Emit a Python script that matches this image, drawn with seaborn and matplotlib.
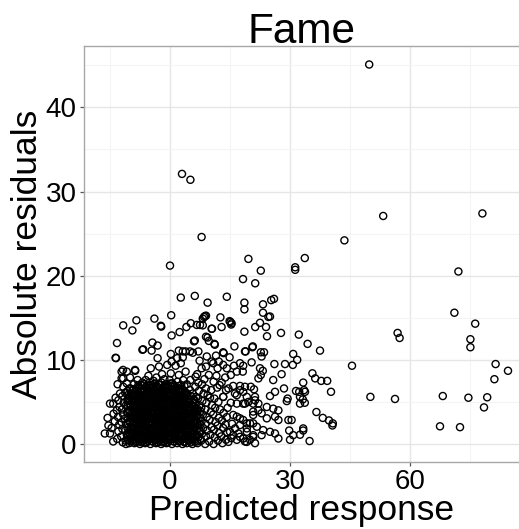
import matplotlib
matplotlib.use("Agg")
import matplotlib.pyplot as plt
import seaborn as sns
import pandas as pd
from matplotlib.ticker import MultipleLocator

# Sparse, large-residual observations
outlier_points = [
    (49.8, 45.1), (3.0, 32.1), (5.1, 31.4), (7.9, 24.6), (53.3, 27.1), (78.1, 27.4),
    (43.6, 24.2), (72.1, 20.5), (71.1, 15.6), (76.3, 14.3), (75.1, 12.45), (75.1, 11.5),
    (56.9, 13.2), (57.4, 12.6), (81.4, 9.5), (84.5, 8.7), (81.1, 7.7), (45.5, 9.3),
    (0.0, 21.2), (50.1, 5.6), (56.25, 5.35), (68.2, 5.7), (74.6, 5.5), (79.3, 5.55),
    (78.5, 4.35), (67.5, 2.1), (72.5, 2.0),
]

# Upper band of the main cloud (small predictions, residuals 8-18)
upper_points = [
    (2.7, 17.4), (6.2, 17.6), (0.3, 15.3), (-3.9, 14.9), (-8.4, 14.7), (-11.7, 14.1),
    (-9.4, 13.5), (-2.2, 13.95), (-2.3, 14.05), (0.4, 12.9), (2.4, 13.3), (4.1, 13.9),
    (5.2, 14.35), (-13.25, 12.0), (-6.9, 11.2), (-6.7, 11.25), (-4.4, 12.05), (-3.1, 11.7),
    (-4.6, 11.1), (6.0, 12.2), (-13.5, 10.2), (-13.6, 10.25), (-3.1, 10.2), (0.2, 10.7),
    (2.2, 11.1), (3.2, 11.0), (3.9, 11.0), (5.0, 11.0), (0.4, 9.8), (1.8, 10.2), (3.2, 10.3),
    (-11.75, 8.8), (-8.75, 8.8), (-4.8, 9.0), (-2.75, 9.2), (-0.7, 9.4), (1.4, 9.3),
    (2.7, 9.6), (-10.8, 8.6), (-12.1, 8.6), (-10.0, 7.9), (-11.7, 7.8), (-8.7, 8.7),
    (2.2, 8.2), (3.9, 8.6), (0.2, 8.4), (-2.0, 8.3), (-5.4, 8.1),
]

# Moderate predictions (roughly 5 to 45)
middle_points = [
    (6.7, 14.15), (7.5, 14.15), (8.5, 15.1), (9.0, 15.25), (10.4, 13.7), (12.6, 15.05),
    (12.9, 13.9), (15.1, 14.5), (15.4, 14.35), (18.6, 13.35), (21.3, 13.9), (9.4, 12.65),
    (11.1, 11.9), (9.0, 12.75), (9.4, 16.8), (18.6, 16.8), (18.6, 16.0), (16.1, 11.6),
    (18.9, 11.0), (20.7, 11.6), (13.3, 10.9), (5.7, 10.85), (7.1, 11.0), (9.2, 10.4),
    (10.4, 9.8), (9.0, 9.2), (10.8, 9.6), (11.9, 9.0), (13.3, 9.4), (14.2, 9.0),
    (19.6, 22.0), (22.7, 20.6), (31.3, 21.0), (31.3, 20.7), (33.7, 22.1), (18.25, 19.6),
    (21.3, 19.1), (14.2, 17.5), (23.25, 16.6), (25.3, 17.1), (26.0, 17.25), (23.25, 15.6),
    (24.6, 15.1), (25.0, 15.15), (8.75, 15.2), (8.2, 14.9), (8.2, 14.1), (14.9, 14.6),
    (15.3, 14.2), (10.5, 13.7), (22.5, 14.4), (24.0, 13.9), (27.75, 13.2), (24.25, 12.8),
    (32.2, 13.0), (6.2, 12.3), (9.7, 12.25), (11.2, 11.8), (20.6, 11.5), (18.75, 11.0),
    (13.4, 10.8), (22.7, 10.9), (23.5, 10.9), (34.4, 11.9), (30.8, 10.7), (37.5, 11.1),
    (35.6, 8.4), (36.3, 7.8), (37.8, 7.5), (39.3, 7.5), (33.3, 7.3), (33.5, 6.4),
    (32.5, 5.6), (33.7, 4.9), (40.25, 6.2), (36.6, 3.8), (38.2, 3.1), (39.75, 2.8),
    (40.6, 2.2), (40.7, 2.45), (33.3, 1.85), (33.3, 1.6), (32.5, 1.1), (34.9, 0.35),
    (22.9, 10.4), (17.5, 9.6), (18.3, 9.3), (20.4, 9.7), (16.7, 8.6), (18.2, 8.6),
    (22.5, 9.0), (23.2, 8.7), (22.7, 8.2), (22.1, 7.8), (26.1, 9.5), (28.75, 9.5),
    (31.8, 10.0), (30.7, 9.4), (27.9, 8.3), (25.8, 7.6), (31.5, 6.3), (32.3, 6.2),
    (33.75, 6.2), (33.2, 5.3), (32.5, 4.8), (29.4, 5.4), (29.2, 5.1), (26.25, 6.2),
    (25.0, 5.7), (28.5, 6.6), (15.8, 6.9), (17.5, 6.9), (18.75, 6.8), (20.2, 6.8),
    (21.0, 6.5), (18.3, 6.2), (16.7, 5.8), (21.25, 5.6), (16.7, 4.8), (18.3, 4.8),
    (19.6, 5.0), (20.8, 4.8), (22.1, 4.8), (24.2, 4.4), (25.8, 4.2), (27.1, 4.0),
    (24.2, 3.05), (26.25, 3.25), (27.1, 2.85), (29.6, 2.85), (30.4, 2.85), (23.3, 1.65),
    (25.0, 1.45), (26.25, 1.25), (27.1, 0.65), (29.8, 1.6), (30.8, 1.05), (30.0, 0.5),
    (22.9, 1.05), (20.8, 1.05), (20.0, 0.5), (18.3, 0.65), (21.7, 2.05), (20.0, 2.45),
    (19.2, 1.85), (22.1, 4.0), (22.9, 3.65), (20.8, 3.45), (16.7, 3.25), (18.3, 2.85),
    (17.5, 2.25), (16.25, 1.85), (15.8, 1.05), (17.5, 0.85), (19.2, 0.25), (21.25, 0.1),
    (14.6, 0.25), (13.3, 5.6), (16.25, 6.0), (17.5, 6.4), (19.2, 5.6), (21.25, 5.2),
    (18.75, 4.8), (20.8, 3.85), (15.8, 3.45), (17.5, 3.05), (19.2, 2.45), (20.8, 2.45),
    (15.0, 1.45), (17.1, 1.25), (19.2, 1.45), (20.8, 0.85), (16.7, 0.5), (18.75, 0.3),
    (6.8, 8.3), (7.9, 9.0), (8.6, 7.7), (9.7, 8.2), (10.9, 7.4), (11.6, 8.1), (12.4, 7.0),
    (13.8, 7.9), (14.6, 6.6), (7.4, 9.9), (12.2, 9.8), (11.5, 10.5), (15.2, 8.2),
    (16.0, 9.3), (14.9, 10.3),
]

# Dense core of the cloud (predictions near zero, small residuals)
core_points = [
    (-16.3, 1.25), (-15.0, 1.25), (-15.4, 2.2), (-15.0, 4.8), (-15.6, 3.1),
    (-14.2, 0.3), (-14.6, 1.9), (-13.8, 2.7), (-14.1, 3.6), (-13.3, 4.0), (-14.2, 4.8), (-13.6, 5.5),
    (-12.9, 1.5), (-13.2, 0.6), (-12.7, 2.3), (-13.0, 3.2), (-12.6, 4.4), (-12.5, 6.0), (-12.9, 5.2), (-13.1, 7.1),
    (-11.8, 0.2), (-12.2, 0.9), (-11.9, 1.8), (-12.1, 2.6), (-11.7, 3.5), (-12.0, 4.1), (-11.6, 4.9), (-11.7, 6.8), (-12.1, 7.8), (-11.9, 5.7),
    (-11.1, 0.4), (-10.8, 1.1), (-11.2, 1.6), (-10.9, 2.4), (-11.3, 3.0), (-10.7, 3.8), (-11.0, 4.6), (-10.6, 5.3), (-11.2, 6.1), (-10.8, 7.2), (-11.0, 0.0),
    (-10.2, 0.1), (-9.9, 0.7), (-10.3, 1.3), (-9.8, 2.0), (-10.1, 2.7), (-9.7, 3.3), (-10.2, 4.0), (-9.9, 4.7), (-10.3, 5.4), (-9.8, 6.0), (-10.1, 6.6),
    (-9.4, 0.4), (-9.6, 1.0), (-9.3, 1.7), (-9.5, 2.3), (-9.2, 3.0), (-9.6, 3.6), (-9.3, 4.3), (-9.5, 5.0), (-9.2, 5.7), (-9.4, 6.4), (-9.0, 7.1),
    (-8.9, 0.1), (-8.7, 0.8), (-9.0, 1.4), (-8.8, 2.1), (-8.6, 2.7), (-9.0, 3.4), (-8.7, 4.0), (-8.9, 4.6), (-8.6, 5.3), (-8.8, 6.0),
    (-8.2, 0.3), (-8.0, 0.9), (-8.3, 1.5), (-7.9, 2.2), (-8.1, 2.9), (-8.3, 3.5), (-7.9, 4.2), (-8.2, 4.9), (-8.0, 5.6), (-8.3, 6.3), (-7.9, 7.0), (-8.1, 7.6),
    (-7.5, 0.0), (-7.6, 0.6), (-7.3, 1.2), (-7.5, 1.9), (-7.2, 2.5), (-7.6, 3.1), (-7.4, 3.8), (-7.7, 4.5), (-7.3, 5.2), (-7.5, 5.9), (-7.2, 6.6),
    (-6.9, 0.3), (-6.7, 1.0), (-7.0, 1.6), (-6.8, 2.2), (-6.6, 2.9), (-7.0, 3.5), (-6.7, 4.1), (-6.9, 4.8), (-6.6, 5.5), (-6.8, 6.1), (-6.9, 7.3),
    (-6.2, 0.1), (-6.0, 0.8), (-6.3, 1.4), (-5.9, 2.0), (-6.1, 2.7), (-6.3, 3.3), (-5.9, 4.0), (-6.2, 4.6), (-6.0, 5.3), (-6.3, 5.9), (-5.9, 6.6), (-6.1, 7.6),
    (-5.5, 0.4), (-5.6, 1.1), (-5.3, 1.7), (-5.5, 2.4), (-5.2, 3.0), (-5.6, 3.7), (-5.4, 4.3), (-5.7, 5.0), (-5.3, 5.6), (-5.5, 6.3), (-5.2, 7.0),
    (-4.9, 0.0), (-4.7, 0.7), (-5.0, 1.3), (-4.8, 1.9), (-4.6, 2.6), (-5.0, 3.2), (-4.7, 3.9), (-4.9, 4.5), (-4.6, 5.2), (-4.8, 5.8), (-4.9, 6.7),
    (-4.2, 0.3), (-4.0, 0.9), (-4.3, 1.6), (-3.9, 2.2), (-4.1, 2.9), (-4.3, 3.5), (-3.9, 4.2), (-4.2, 4.8), (-4.0, 5.5), (-4.3, 6.1), (-3.9, 6.8), (-4.1, 7.5),
    (-3.5, 0.1), (-3.6, 0.8), (-3.3, 1.4), (-3.5, 2.0), (-3.2, 2.7), (-3.6, 3.3), (-3.4, 4.0), (-3.7, 4.6), (-3.3, 5.3), (-3.5, 5.9), (-3.2, 6.6), (-3.4, 7.9),
    (-2.9, 0.4), (-2.7, 1.1), (-3.0, 1.7), (-2.8, 2.4), (-2.6, 3.0), (-3.0, 3.7), (-2.7, 4.3), (-2.9, 5.0), (-2.6, 5.6), (-2.8, 6.3), (-2.9, 7.1),
    (-2.2, 0.0), (-2.0, 0.6), (-2.3, 1.3), (-1.9, 1.9), (-2.1, 2.6), (-2.3, 3.2), (-1.9, 3.9), (-2.2, 4.5), (-2.0, 5.2), (-2.3, 5.8), (-1.9, 6.5), (-2.1, 7.3),
    (-1.5, 0.3), (-1.6, 0.9), (-1.3, 1.6), (-1.5, 2.2), (-1.2, 2.9), (-1.6, 3.5), (-1.4, 4.2), (-1.7, 4.8), (-1.3, 5.5), (-1.5, 6.1), (-1.2, 6.8), (-1.4, 7.7),
    (-0.9, 0.1), (-0.7, 0.8), (-1.0, 1.4), (-0.8, 2.0), (-0.6, 2.7), (-1.0, 3.3), (-0.7, 4.0), (-0.9, 4.6), (-0.6, 5.3), (-0.8, 5.9), (-0.9, 6.6),
    (-0.2, 0.4), (0.0, 1.0), (-0.3, 1.7), (0.1, 2.3), (-0.1, 3.0), (-0.3, 3.6), (0.1, 4.3), (-0.2, 4.9), (0.0, 5.6), (-0.3, 6.2), (0.1, 6.9), (-0.1, 7.6),
    (0.5, 0.0), (0.4, 0.7), (0.7, 1.3), (0.5, 2.0), (0.8, 2.6), (0.4, 3.2), (0.6, 3.9), (0.3, 4.5), (0.7, 5.2), (0.5, 5.8), (0.8, 6.5), (0.6, 7.2),
    (1.1, 0.3), (1.3, 0.9), (1.0, 1.6), (1.2, 2.2), (1.4, 2.9), (1.0, 3.5), (1.3, 4.2), (1.1, 4.8), (1.4, 5.5), (1.2, 6.1), (1.1, 6.8),
    (1.8, 0.1), (2.0, 0.7), (1.7, 1.4), (2.1, 2.0), (1.9, 2.7), (1.7, 3.3), (2.1, 4.0), (1.8, 4.6), (2.0, 5.3), (1.7, 5.9), (2.1, 6.6), (1.9, 7.4),
    (2.5, 0.4), (2.4, 1.1), (2.7, 1.7), (2.5, 2.4), (2.8, 3.0), (2.4, 3.7), (2.6, 4.3), (2.3, 5.0), (2.7, 5.6), (2.5, 6.3), (2.8, 7.0),
    (3.1, 0.0), (3.3, 0.6), (3.0, 1.3), (3.2, 1.9), (3.4, 2.6), (3.0, 3.2), (3.3, 3.9), (3.1, 4.5), (3.4, 5.2), (3.2, 5.8), (3.1, 6.5), (3.3, 7.6),
    (3.6, 0.3), (3.8, 1.0), (3.5, 1.6), (3.7, 2.3), (3.9, 2.9), (3.5, 3.6), (3.8, 4.2), (3.6, 4.9), (3.9, 5.5), (3.7, 6.2), (3.6, 6.9),
    (4.2, 0.1), (4.4, 0.8), (4.1, 1.4), (4.3, 2.1), (4.5, 2.7), (4.1, 3.4), (4.4, 4.0), (4.2, 4.7), (4.5, 5.3), (4.3, 6.0), (4.2, 7.1),
    (4.9, 0.4), (5.1, 1.1), (4.8, 1.7), (5.0, 2.4), (5.2, 3.0), (4.8, 3.7), (5.1, 4.3), (4.9, 5.0), (5.2, 5.7), (5.0, 6.4), (5.1, 7.6),
    (5.6, 0.0), (5.8, 0.7), (5.5, 1.3), (5.7, 2.0), (5.9, 2.6), (5.5, 3.3), (5.8, 3.9), (5.6, 4.6), (5.9, 5.2), (5.7, 6.0),
    (6.2, 0.3), (6.4, 1.0), (6.1, 1.6), (6.3, 2.3), (6.5, 2.9), (6.1, 3.6), (6.4, 4.2), (6.2, 4.9), (6.5, 5.6), (6.3, 6.8), (6.4, 8.0),
    (6.9, 0.1), (7.1, 0.8), (7.3, 1.5), (7.0, 2.2), (7.2, 3.1), (6.9, 3.9), (7.3, 4.6), (7.0, 5.4), (7.2, 6.3), (7.1, 7.3),
    (7.8, 0.4), (8.0, 1.2), (8.3, 1.9), (7.9, 2.7), (8.2, 3.5), (7.8, 4.3), (8.1, 5.1), (8.4, 6.0), (8.0, 7.1),
    (8.8, 0.0), (9.0, 0.9), (9.3, 1.6), (8.9, 2.4), (9.2, 3.2), (8.8, 4.1), (9.1, 4.9), (9.4, 5.8), (9.0, 6.6),
    (9.8, 0.3), (10.1, 1.1), (10.4, 2.0), (9.9, 2.9), (10.2, 3.8), (10.5, 4.6), (10.0, 5.5), (10.3, 6.4),
    (10.9, 0.0), (11.2, 0.8), (11.0, 1.7), (11.4, 2.6), (10.8, 3.5), (11.3, 4.3), (11.1, 5.4),
    (12.0, 0.4), (12.3, 1.3), (11.9, 2.2), (12.2, 3.1), (12.5, 4.1), (12.1, 5.0), (11.8, 6.7),
    (13.1, 0.1), (12.8, 0.9), (13.3, 1.9), (13.0, 2.8), (13.4, 3.7), (13.3, 5.6), (12.9, 7.3),
    (14.0, 0.5), (14.3, 1.4), (13.9, 2.3), (14.2, 3.2), (14.4, 4.3), (14.0, 6.4),
    (15.3, 0.7), (15.5, 2.4), (15.2, 4.9),
]

# Further observations packed between the core ones, one column per predicted value
core_fill_columns = [
    (-10.6, [0.5, 1.0, 1.9, 2.4, 3.2, 3.7, 4.5, 5.1, 5.8, 6.3]),
    (-9.9, [0.3, 1.2, 1.8, 2.6, 3.1, 3.9, 4.4, 5.2, 5.6, 6.6]),
    (-9.1, [0.5, 1.1, 1.9, 2.5, 3.2, 3.8, 4.5, 5.0, 5.9, 6.5]),
    (-8.5, [0.2, 1.2, 1.7, 2.4, 3.1, 3.8, 4.4, 5.1, 5.8, 6.6]),
    (-7.8, [0.6, 1.3, 1.8, 2.6, 3.3, 3.9, 4.6, 5.3, 5.9, 6.7]),
    (-7.1, [0.2, 0.9, 1.5, 2.2, 2.8, 3.6, 4.3, 4.9, 5.7, 6.4, 7.0]),
    (-6.5, [0.5, 1.2, 1.8, 2.5, 3.2, 3.8, 4.5, 5.1, 5.8, 6.4, 7.1]),
    (-5.8, [0.2, 0.8, 1.6, 2.2, 2.8, 3.6, 4.2, 4.8, 5.5, 6.1, 6.9]),
    (-5.1, [0.6, 1.2, 1.9, 2.6, 3.3, 3.8, 4.6, 5.3, 5.9, 6.6, 7.3]),
    (-4.4, [0.3, 1.0, 1.6, 2.3, 3.0, 3.6, 4.3, 4.9, 5.6, 6.3, 7.0]),
    (-3.7, [0.5, 1.2, 1.9, 2.5, 3.1, 3.8, 4.5, 5.2, 5.8, 6.4, 7.2]),
    (-3.1, [0.2, 0.9, 1.5, 2.1, 2.8, 3.4, 4.1, 4.7, 5.4, 6.0, 6.8]),
    (-2.4, [0.5, 1.1, 1.8, 2.4, 3.1, 3.7, 4.3, 5.0, 5.6, 6.3, 7.0]),
    (-1.8, [0.2, 0.8, 1.5, 2.1, 2.8, 3.4, 4.1, 4.7, 5.4, 6.0, 6.7]),
    (-1.1, [0.5, 1.1, 1.8, 2.4, 3.1, 3.7, 4.4, 5.0, 5.7, 6.3, 7.1]),
    (-0.5, [0.2, 0.8, 1.4, 2.1, 2.7, 3.4, 4.0, 4.7, 5.3, 6.0, 6.7]),
    (0.2, [0.6, 1.3, 1.9, 2.6, 3.2, 3.9, 4.5, 5.2, 5.9, 6.5, 7.2]),
    (0.9, [0.3, 1.0, 1.6, 2.3, 2.9, 3.6, 4.2, 4.9, 5.5, 6.2, 7.0]),
    (1.5, [0.6, 1.2, 1.9, 2.5, 3.2, 3.8, 4.5, 5.1, 5.8, 6.4]),
    (2.2, [0.3, 0.9, 1.6, 2.2, 2.9, 3.5, 4.2, 4.8, 5.5, 6.2, 6.9]),
    (2.9, [0.6, 1.2, 1.9, 2.6, 3.3, 3.9, 4.5, 5.2, 5.8, 6.5]),
    (3.6, [0.2, 0.8, 1.5, 2.1, 2.8, 3.4, 4.1, 4.7, 5.4, 6.0]),
    (4.4, [0.5, 1.1, 1.8, 2.4, 3.1, 3.7, 4.4, 5.0, 5.7]),
    (5.2, [0.2, 0.8, 1.5, 2.1, 2.8, 3.4, 4.1, 4.7]),
    (6.0, [0.5, 1.2, 1.9, 2.5, 3.2, 3.9, 4.5, 5.3]),
    (6.8, [0.3, 1.1, 1.8, 2.6, 3.4, 4.2]),
    (7.6, [0.6, 1.5, 2.3, 3.1, 3.9]),
]

rows = []
for name, pts in [("outlier", outlier_points), ("upper", upper_points),
                  ("middle", middle_points), ("core", core_points)]:
    for px, py in pts:
        rows.append({"predicted": px, "abs_resid": py, "group": name})
for px, ys in core_fill_columns:
    for py in ys:
        rows.append({"predicted": px, "abs_resid": py, "group": "core"})
df = pd.DataFrame(rows)

sns.set_theme(style="white")
plt.rcParams["font.family"] = ["Liberation Sans", "DejaVu Sans"]

fig = plt.figure(figsize=(5.19, 5.29), dpi=100)
ax = fig.add_axes([84 / 519, 1 - 462 / 529, 435 / 519, (462 - 46) / 529])

sns.scatterplot(
    data=df, x="predicted", y="abs_resid", ax=ax,
    marker="o", s=26, facecolor="none", edgecolor="black", linewidth=1.0,
    legend=False, zorder=3,
)

ax.set_xlim(-21.5, 87.25)
ax.set_ylim(-2.14, 47.3)

ax.xaxis.set_major_locator(MultipleLocator(30))
ax.xaxis.set_minor_locator(MultipleLocator(15))
ax.yaxis.set_major_locator(MultipleLocator(10))
ax.yaxis.set_minor_locator(MultipleLocator(5))
ax.grid(which="major", color="#e6e6e6", linewidth=1.0, zorder=0)
ax.grid(which="minor", color="#f4f4f4", linewidth=0.8, zorder=0)
ax.set_axisbelow(True)

for side, sp in ax.spines.items():
    sp.set_color("#a8a8a8")
    sp.set_linewidth(1.0)
ax.spines["right"].set_visible(False)

ax.tick_params(axis="both", which="major", length=3.2, width=0.9, color="#555555",
               labelsize=20, labelcolor="black", pad=2, bottom=True, left=True)
ax.tick_params(axis="both", which="minor", length=0)

ax.set_title("Fame", fontsize=30.5, color="black", pad=2)
ax.set_xlabel("Predicted response", fontsize=25.5, color="black", labelpad=-1)
ax.set_ylabel("Absolute residuals", fontsize=25.5, color="black", labelpad=1)

fig.savefig("out.png", dpi=100)
